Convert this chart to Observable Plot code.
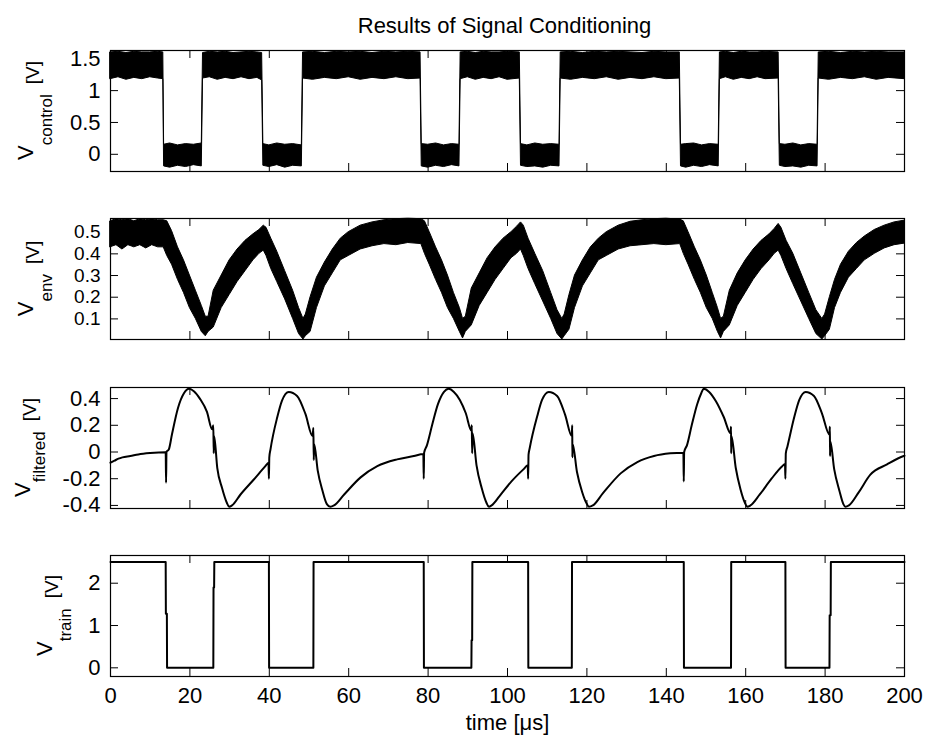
<!DOCTYPE html>
<html>
<head>
<meta charset="utf-8">
<script src="https://cdn.jsdelivr.net/npm/d3@7"></script>
<script src="https://cdn.jsdelivr.net/npm/@observablehq/plot@0.6"></script>
<style>
  body { margin: 0; background: #fff; }
  #fig { position: relative; width: 927px; height: 746px; overflow: hidden; background: #fff; }
  #fig svg { position: absolute; left: 0; }
</style>
</head>
<body>
<div id="fig"></div>
<script>
// ---- data (time in µs, voltages in V) ----
const titleText = "Results of Signal Conditioning";
const xLabel = "time [μs]";
const xTicks = [0, 20, 40, 60, 80, 100, 120, 140, 160, 180, 200];

// V_control: noisy square wave, kept as [t, lower edge, upper edge] of the noise band
const controlTicks = [0, 0.5, 1, 1.5];
const controlBand = [
  [0,1.18,1.60],[2,1.21,1.61],[4,1.17,1.59],[6,1.20,1.61],[8,1.18,1.60],[10,1.21,1.60],[12,1.19,1.61],[13.3,1.18,1.60],
  [13.5,-0.19,0.15],[15,-0.21,0.17],[17,-0.18,0.14],[19,-0.20,0.16],[21,-0.17,0.15],[23.0,-0.19,0.17],
  [23.3,1.19,1.59],[25,1.21,1.61],[27,1.17,1.60],[29,1.20,1.61],[31,1.18,1.59],[33,1.21,1.60],[35,1.18,1.61],[37,1.20,1.60],[38.2,1.16,1.59],
  [38.5,-0.18,0.16],[40,-0.20,0.14],[42,-0.17,0.17],[44,-0.21,0.15],[46,-0.18,0.16],[48.2,-0.19,0.14],
  [48.5,1.19,1.60],[51,1.17,1.61],[54,1.20,1.59],[57,1.18,1.61],[60,1.21,1.60],[63,1.17,1.61],[66,1.20,1.59],[69,1.18,1.61],[72,1.21,1.60],[75,1.18,1.61],[78.1,1.19,1.60],
  [78.4,-0.19,0.16],[80,-0.21,0.15],[82,-0.18,0.17],[84,-0.20,0.14],[86,-0.17,0.16],[87.9,-0.19,0.15],
  [88.2,1.18,1.60],[90,1.21,1.61],[92,1.17,1.59],[94,1.20,1.61],[96,1.18,1.60],[98,1.21,1.60],[100,1.17,1.61],[103.1,1.19,1.60],
  [103.4,-0.18,0.16],[105,-0.20,0.14],[107,-0.19,0.17],[109,-0.21,0.15],[111,-0.18,0.16],[113.1,-0.19,0.15],
  [113.4,1.19,1.60],[116,1.17,1.61],[119,1.20,1.59],[122,1.18,1.61],[125,1.21,1.60],[128,1.17,1.61],[131,1.20,1.60],[134,1.18,1.59],[137,1.21,1.61],[140,1.18,1.60],[143.4,1.19,1.60],
  [143.7,-0.19,0.15],[145,-0.21,0.16],[147,-0.18,0.17],[149,-0.20,0.14],[151,-0.17,0.16],[153.2,-0.19,0.15],
  [153.5,1.18,1.60],[155,1.21,1.61],[157,1.17,1.59],[159,1.20,1.61],[161,1.18,1.60],[163,1.21,1.60],[165,1.18,1.61],[168.3,1.19,1.60],
  [168.6,-0.18,0.16],[170,-0.20,0.15],[172,-0.19,0.17],[174,-0.21,0.14],[176,-0.18,0.16],[178.1,-0.19,0.15],
  [178.4,1.19,1.60],[181,1.17,1.61],[184,1.20,1.59],[187,1.18,1.61],[190,1.21,1.60],[193,1.17,1.61],[196,1.20,1.60],[200,1.18,1.60]
];

// V_env: envelope with noise band, [t, lower edge, upper edge]
const envTicks = [0.1, 0.2, 0.3, 0.4, 0.5];
const envBand = [
  [0,0.43,0.55],[1.5,0.44,0.56],[3,0.42,0.555],[4.5,0.44,0.56],[6,0.43,0.55],[7.5,0.44,0.56],[9,0.425,0.555],[10.5,0.44,0.56],[12,0.43,0.555],[13.4,0.43,0.555],
  [14.3,0.39,0.55],[15.5,0.35,0.505],[17,0.28,0.43],[18.5,0.22,0.37],[20,0.15,0.30],[21.5,0.10,0.23],[23,0.04,0.16],[24,0.02,0.11],[24.7,0.04,0.11],
  [26,0.06,0.23],[28,0.15,0.30],[30,0.21,0.37],[32,0.27,0.42],[34,0.32,0.46],[36,0.37,0.49],[37.5,0.40,0.51],[38.6,0.415,0.53],
  [39.3,0.39,0.52],[40.5,0.33,0.47],[42,0.27,0.41],[44,0.19,0.32],[46,0.10,0.23],[47.5,0.03,0.15],[48.6,0.005,0.10],[49.2,0.02,0.12],
  [50.4,0.04,0.20],[52,0.15,0.29],[54,0.25,0.36],[56,0.31,0.42],[58,0.37,0.47],[60,0.39,0.50],[63,0.42,0.53],[66,0.435,0.545],[69,0.445,0.555],[72,0.44,0.56],[75,0.45,0.562],[78.3,0.445,0.56],
  [79.2,0.40,0.55],[80.4,0.35,0.50],[82,0.28,0.43],[83.5,0.22,0.37],[85,0.15,0.30],[86.5,0.10,0.22],[88,0.04,0.15],[88.8,0.01,0.10],[89.5,0.04,0.11],
  [91,0.07,0.24],[93,0.16,0.31],[95,0.22,0.38],[97,0.28,0.43],[99,0.33,0.47],[101,0.38,0.50],[102.4,0.40,0.525],[103.4,0.42,0.545],
  [104.1,0.39,0.53],[105.3,0.33,0.47],[107,0.26,0.40],[109,0.18,0.32],[111,0.10,0.22],[112.6,0.03,0.14],[113.8,0.005,0.10],[114.4,0.02,0.12],
  [115.6,0.05,0.21],[117,0.15,0.30],[119,0.25,0.37],[121,0.31,0.43],[123,0.37,0.47],[125,0.39,0.50],[128,0.42,0.53],[131,0.435,0.548],[134,0.44,0.555],[137,0.445,0.56],[140,0.44,0.562],[143.5,0.445,0.558],
  [144.4,0.40,0.55],[145.6,0.35,0.50],[147.2,0.28,0.43],[148.7,0.22,0.37],[150.2,0.15,0.30],[151.7,0.10,0.22],[153,0.04,0.15],[153.8,0.01,0.10],[154.5,0.04,0.11],
  [156,0.07,0.23],[158,0.16,0.31],[160,0.22,0.37],[162,0.28,0.42],[164,0.33,0.46],[166,0.37,0.49],[167.3,0.40,0.515],[168.3,0.415,0.538],
  [169,0.39,0.52],[170.3,0.33,0.46],[172,0.26,0.40],[174,0.18,0.31],[176,0.10,0.22],[177.8,0.03,0.14],[179.3,0.005,0.10],[180,0.02,0.12],
  [181.2,0.05,0.20],[182.5,0.15,0.28],[184,0.22,0.35],[186,0.29,0.41],[188,0.33,0.45],[190,0.37,0.48],[192.5,0.40,0.51],[195,0.425,0.53],[197.5,0.44,0.545],[200,0.447,0.553]
];

// V_filtered: [t, V]
const filteredTicks = [-0.4, -0.2, 0, 0.2, 0.4];
const filtered = [
  [0,-0.08],[1,-0.065],[2,-0.05],[3,-0.04],[5,-0.03],[7,-0.018],[10,-0.008],[13.9,-0.002],[14.0,-0.23],[14.1,0.0],[14.7,0.02],[15.5,0.135],[17,0.33],[18.5,0.44],[19.8,0.473],[21,0.455],[22.5,0.40],[24.3,0.30],[25.6,0.17],
  [25.9,0.20],[26.0,-0.01],[26.1,0.12],[26.9,-0.12],[28.1,-0.27],[29.3,-0.38],[29.9,-0.41],[30.6,-0.40],[32.7,-0.32],[36.1,-0.206],[39,-0.106],[39.8,-0.08],[39.9,-0.2],[40.0,-0.04],[40.3,0.02],[42,0.26],[43.2,0.385],[44.9,0.45],[47,0.42],[49.1,0.285],[50.9,0.12],
  [51.1,0.18],[51.2,-0.06],[51.3,0.06],[52.2,-0.14],[53.4,-0.29],[54.5,-0.39],[55.4,-0.41],[56.3,-0.40],[58.8,-0.32],[63,-0.19],[67.2,-0.106],[72.2,-0.055],[76.4,-0.03],[78.8,-0.015],[78.9,-0.2],[79.0,-0.005],
  [79.7,0.05],[81,0.2],[82.5,0.36],[84,0.45],[85.2,0.473],[86.5,0.45],[88,0.39],[89.5,0.29],[90.9,0.16],[91.0,0.2],[91.1,-0.01],[91.2,0.14],[92.2,-0.1],[93.5,-0.27],[94.7,-0.38],[95.3,-0.41],[96,-0.40],[98,-0.33],[101,-0.22],[104,-0.13],
  [105.1,-0.1],[105.2,-0.2],[105.3,-0.02],[105.6,0.03],[107.5,0.27],[108.7,0.39],[110.4,0.45],[112.5,0.42],[114.5,0.28],[116.2,0.12],[116.3,0.2],[116.35,-0.04],[116.4,0.06],[117.5,-0.15],[118.8,-0.30],[120,-0.39],[120.5,-0.41],[121.5,-0.40],
  [124,-0.31],[128.5,-0.16],[132.7,-0.075],[136.9,-0.03],[141,-0.01],[144.3,-0.005],[144.4,-0.22],[144.5,0.0],
  [145.2,0.05],[146.4,0.2],[147.8,0.36],[148.8,0.44],[149.4,0.473],[150.8,0.45],[152.5,0.38],[154.5,0.26],[156.2,0.14],[156.3,0.19],[156.35,-0.01],[156.4,0.12],[157.5,-0.12],[158.7,-0.28],[159.8,-0.38],[160.4,-0.41],[161.2,-0.40],
  [163.5,-0.32],[166.5,-0.2],[169.2,-0.106],[169.9,-0.09],[170.0,-0.2],[170.1,-0.01],[170.5,0.04],[172.3,0.27],[173.5,0.39],[175.1,0.45],[177.2,0.42],[179.2,0.29],[181.1,0.13],[181.2,0.19],[181.25,-0.03],[181.3,0.08],
  [182.3,-0.13],[183.6,-0.29],[184.6,-0.39],[185.1,-0.41],[186,-0.40],[188.5,-0.30],[191.4,-0.17],[195.6,-0.093],[199.8,-0.03],[200,-0.028]
];

// V_train: comparator output, [t, V]
const trainTicks = [0, 1, 2];
const train = [
  [0,2.5],[13.9,2.5],[13.95,1.28],[14.2,1.28],[14.25,0],[25.9,0],[25.95,1.9],[26.1,1.9],[26.15,2.5],
  [39.9,2.5],[39.95,0],[51.1,0],[51.15,2.5],[78.9,2.5],[78.95,0],[90.9,0],[90.95,0.65],[91.1,0.65],[91.15,2.5],
  [105.2,2.5],[105.25,0],[116.2,0],[116.25,2.5],[144.4,2.5],[144.45,0],[156.3,0],[156.35,2.5],
  [170.0,2.5],[170.05,0],[181.1,0],[181.15,1.24],[181.4,1.24],[181.45,2.5],[200,2.5]
];

// ---- layout ----
const FONT = '"Liberation Sans", Arial, Helvetica, sans-serif';
const W = 927, ML = 110, MR = 23;
const FW = W - ML - MR;     // axes box width
const FH = 121;             // axes box height
const TICK = 8;             // inward tick length
const fig = document.getElementById("fig");

function panel({top, mt, mb, domain, ticks, marks, showX, extra, label, tickFont = 22}) {
  const h = FH;
  const plot = Plot.plot({
    width: W, height: h + mt + mb,
    marginLeft: ML, marginRight: MR, marginTop: mt, marginBottom: mb,
    style: {fontFamily: FONT, fontSize: "22px", color: "black", background: "transparent"},
    x: {domain: [0, 200], axis: showX ? undefined : null},
    y: {domain},
    marks: [
      ...marks,
      Plot.tickY(ticks, {y: d => d, insetRight: FW - TICK, stroke: "black"}),
      Plot.tickY(ticks, {y: d => d, insetLeft: FW - TICK, stroke: "black"}),
      Plot.tickX(xTicks, {x: d => d, insetBottom: h - TICK, stroke: "black"}),
      Plot.tickX(xTicks, {x: d => d, insetTop: h - TICK, stroke: "black"}),
      Plot.axisY({ticks, tickSize: 0, tickPadding: 10, tickFormat: d => String(d), label: null, fontSize: tickFont}),
      ...(showX ? [Plot.axisX({ticks: xTicks, tickSize: 0, tickPadding: 11, tickFormat: d => String(d), label: null})] : []),
      ...(extra || []),
      Plot.frame({stroke: "black", strokeWidth: 1.2})
    ]
  });
  plot.style.top = (top - mt) + "px";
  // rotated y label: V with a subscript, then the unit
  const t = d3.select(plot).append("text")
    .attr("transform", `translate(${label.x},${mt + h / 2}) rotate(-90)`)
    .attr("text-anchor", "middle")
    .attr("font-family", FONT)
    .attr("font-size", 22)
    .attr("fill", "black");
  t.append("tspan").text("V");
  t.append("tspan").attr("dy", label.sub).attr("font-size", 17).text(label.name);
  t.append("tspan").attr("dy", label.back).attr("dx", 10).attr("font-size", 19).text("[V]");
  fig.appendChild(plot);
}

panel({
  top: 50, mt: 50, mb: 10, domain: [-0.27, 1.63], ticks: controlTicks,
  marks: [Plot.areaY(controlBand, {x: d => d[0], y1: d => d[1], y2: d => d[2], fill: "black", stroke: "black", strokeWidth: 1})],
  extra: [Plot.text([titleText], {frameAnchor: "top", lineAnchor: "middle", dy: -25, dx: -3, fontSize: 22, fill: "black", style: {letterSpacing: "1.2px"}})],
  label: {x: 33, name: "control", sub: 19, back: -13}
});

panel({
  top: 218, mt: 10, mb: 10, domain: [0.005, 0.563], ticks: envTicks, tickFont: 19,
  marks: [Plot.areaY(envBand, {x: d => d[0], y1: d => d[1], y2: d => d[2], fill: "black", stroke: "black", strokeWidth: 1})],
  label: {x: 33, name: "env", sub: 19, back: -13}
});

panel({
  top: 387, mt: 10, mb: 10, domain: [-0.423, 0.483], ticks: filteredTicks,
  marks: [Plot.line(filtered, {x: d => d[0], y: d => d[1], stroke: "black", strokeWidth: 2, curve: "monotone-x"})],
  label: {x: 30, name: "filtered", sub: 15, back: -9}
});

panel({
  top: 555, mt: 10, mb: 70, domain: [-0.205, 2.655], ticks: trainTicks, showX: true,
  marks: [Plot.line(train, {x: d => d[0], y: d => d[1], stroke: "black", strokeWidth: 2})],
  extra: [Plot.text([xLabel], {frameAnchor: "bottom", lineAnchor: "middle", dy: 46, fontSize: 22, fill: "black"})],
  label: {x: 52, name: "train", sub: 19, back: -13}
});
</script>
</body>
</html>
